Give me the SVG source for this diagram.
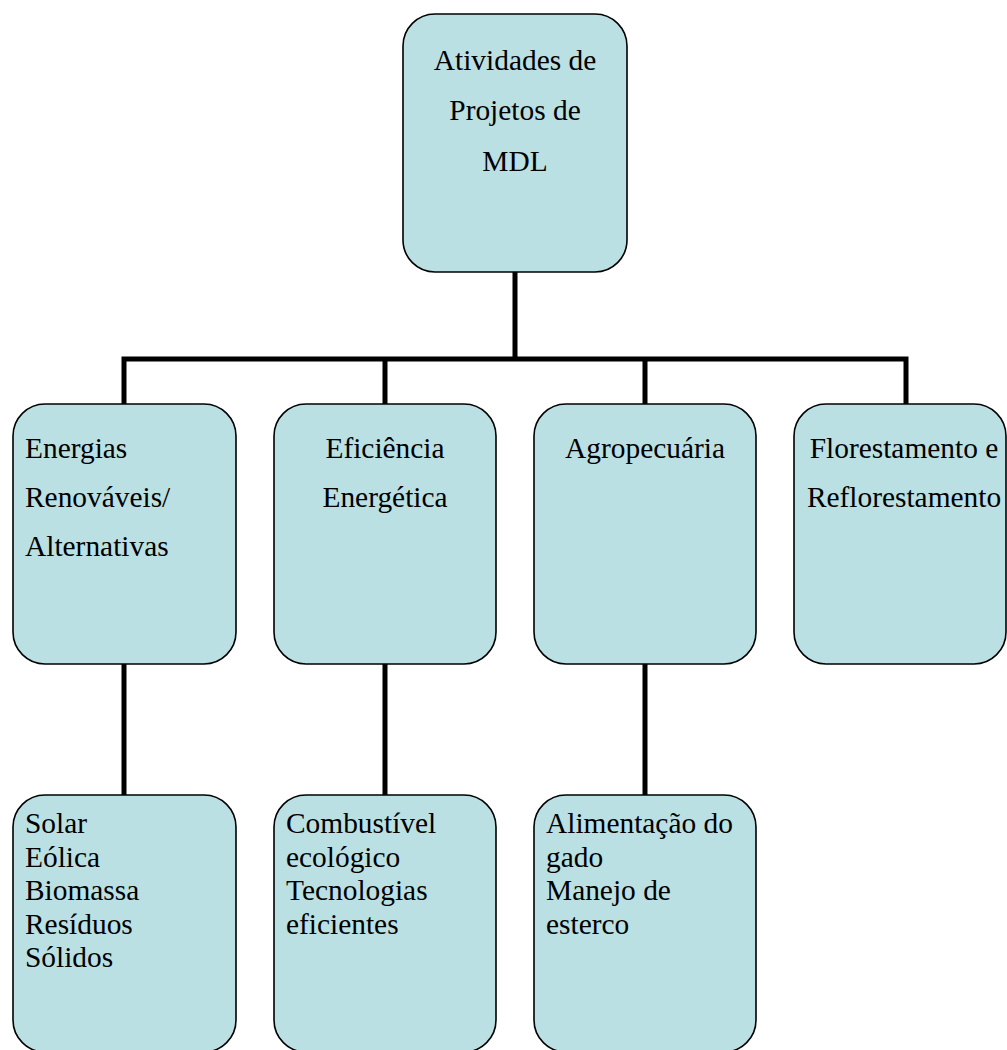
<svg xmlns="http://www.w3.org/2000/svg" width="1007" height="1050" viewBox="0 0 1007 1050">
<style>
.box{fill:#bbe0e3;stroke:#000;stroke-width:1.6}
.t{font-family:"Liberation Serif","Times New Roman",serif;font-size:29.4px;fill:#000}
.c{text-anchor:middle}
.line{stroke:#000;stroke-width:5;fill:none;stroke-linecap:square}
</style>
<rect width="1007" height="1050" fill="#fff"/>
<g id="connectors">
<path class="line" d="M515,272 V359 M124,359 H906 M124,359 V404 M385,359 V404 M645,359 V404 M906,359 V404"/>
<path class="line" d="M124,664 V795 M385,664 V795 M645,664 V795"/>
</g>
<g id="n-root">
<rect class="box" x="403" y="14" width="224" height="258" rx="32" ry="32"/>
<text class="t c" x="515" y="70">Atividades de</text>
<text class="t c" x="515" y="120">Projetos de</text>
<text class="t c" x="515" y="171">MDL</text>
</g>
<g id="n-energias">
<rect class="box" x="13" y="404" width="223" height="260" rx="32" ry="32"/>
<text class="t" x="25" y="458">Energias</text>
<text class="t" x="25" y="507">Renováveis/</text>
<text class="t" x="25" y="556">Alternativas</text>
</g>
<g id="n-eficiencia">
<rect class="box" x="274" y="404" width="222" height="260" rx="32" ry="32"/>
<text class="t c" x="385" y="458">Eficiência</text>
<text class="t c" x="385" y="507">Energética</text>
</g>
<g id="n-agro">
<rect class="box" x="534" y="404" width="222" height="260" rx="32" ry="32"/>
<text class="t c" x="645" y="458">Agropecuária</text>
</g>
<g id="n-floresta">
<rect class="box" x="794" y="404" width="212" height="260" rx="32" ry="32"/>
<text class="t c" x="904" y="458">Florestamento e</text>
<text class="t c" x="904" y="507">Reflorestamento</text>
</g>
<g id="n-solar">
<rect class="box" x="13" y="795" width="223" height="257" rx="32" ry="32"/>
<text class="t" x="25" y="833">Solar</text>
<text class="t" x="25" y="867">Eólica</text>
<text class="t" x="25" y="900">Biomassa</text>
<text class="t" x="25" y="934">Resíduos</text>
<text class="t" x="25" y="967">Sólidos</text>
</g>
<g id="n-combustivel">
<rect class="box" x="274" y="795" width="222" height="257" rx="32" ry="32"/>
<text class="t" x="286" y="833">Combustível</text>
<text class="t" x="286" y="867">ecológico</text>
<text class="t" x="286" y="900">Tecnologias</text>
<text class="t" x="286" y="934">eficientes</text>
</g>
<g id="n-alimentacao">
<rect class="box" x="534" y="795" width="222" height="257" rx="32" ry="32"/>
<text class="t" x="546" y="833">Alimentação do</text>
<text class="t" x="546" y="867">gado</text>
<text class="t" x="546" y="900">Manejo de</text>
<text class="t" x="546" y="934">esterco</text>
</g>
</svg>
